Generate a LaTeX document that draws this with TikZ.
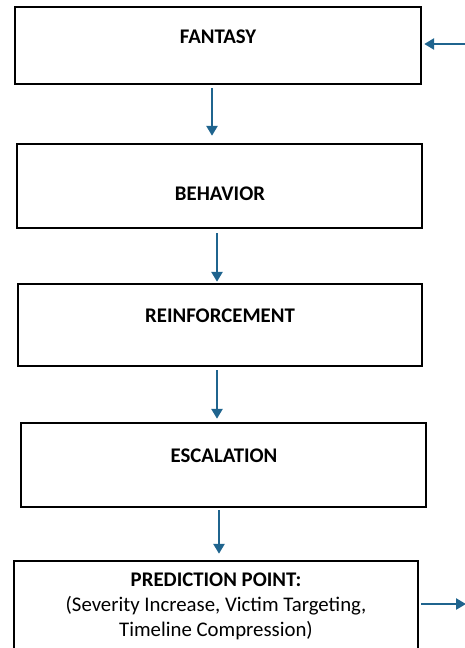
\documentclass[tikz,border=0pt]{standalone}
\usepackage{fontspec}
\setmainfont{Carlito}
\usetikzlibrary{arrows.meta}

\definecolor{flowblue}{RGB}{31,100,142}

\tikzset{
	stage/.style={draw=black, line width=2.4pt, fill=white, inner sep=0pt},
	stagetext/.style={font=\fontsize{20.8}{25}\selectfont\bfseries},
	notetext/.style={font=\fontsize{20.8}{25}\selectfont, align=center},
	flow/.style={draw=flowblue, line width=2.8pt, -{Triangle[length=10pt,width=11pt]}}
}

\begin{document}
\begin{tikzpicture}[x=1pt,y=-1pt]
		\useasboundingbox (0,0) rectangle (465,648);
		\clip (0,0) rectangle (465,648);

		% boxes
		\node[stage, minimum width=406pt, minimum height=77pt] (fantasy) at (218,45.5) {};
		\node[stage, minimum width=405pt, minimum height=84pt] (behavior) at (219.5,186) {};
		\node[stage, minimum width=404pt, minimum height=82pt] (reinforce) at (220,325) {};
		\node[stage, minimum width=405pt, minimum height=84pt] (escalate) at (223.5,465) {};
		\node[stage, minimum width=404pt, minimum height=110pt] (predict) at (216,616) {};

		% labels
		\node[stagetext] (fantasytxt) at (218,37) {FANTASY};
		\node[stagetext] (behaviortxt) at (220,194) {BEHAVIOR};
		\node[stagetext] (reinforcetxt) at (220,316) {REINFORCEMENT};
		\node[stagetext] (escalatetxt) at (224,456) {ESCALATION};
		\node[stagetext] (predicttxt) at (216,580) {PREDICTION POINT:};
		\node[notetext] (predictnote) at (216,618) {(Severity Increase, Victim Targeting,\\Timeline Compression)};

		% arrows
		\draw[flow] ([xshift=-6pt,yshift=-3pt]fantasy.south) -- ([xshift=-6pt,yshift=7pt]fantasy.south |- behavior.north);
		\draw[flow] ([xshift=-2.5pt,yshift=-4pt]behavior.south) -- ([xshift=-2.5pt,yshift=1pt]behavior.south |- reinforce.north);
		\draw[flow] ([xshift=-3pt,yshift=-3pt]reinforce.south) -- ([xshift=-3pt,yshift=3pt]reinforce.south |- escalate.north);
		\draw[flow] ([xshift=-4.5pt,yshift=-2pt]escalate.south) -- ([xshift=-4.5pt,yshift=6pt]escalate.south |- predict.north);

		\coordinate (feedin) at (466,44);
		\coordinate (feedout) at (466,604);
		\draw[flow] (feedin) -- ([xshift=2pt]fantasy.east |- feedin);
		\draw[flow] ([xshift=2pt]predict.east |- feedout) -- (feedout);
	\end{tikzpicture}
\end{document}
